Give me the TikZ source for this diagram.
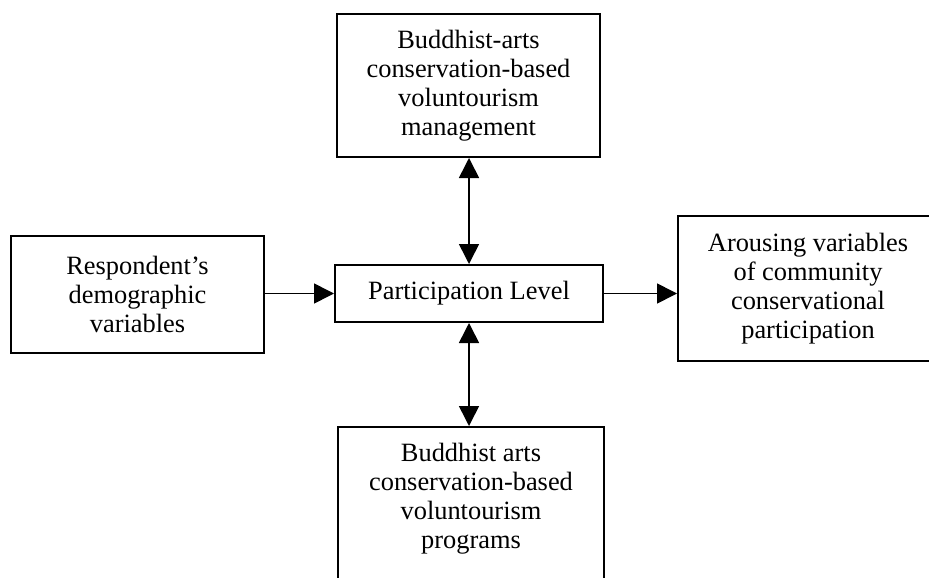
\documentclass[tikz,border=0pt]{standalone}
\usepackage{fontspec}
\setmainfont{Liberation Serif}
\usetikzlibrary{arrows.meta}
\begin{document}
\begin{tikzpicture}[x=0.5pt,y=-0.5pt,
  box/.style={draw, line width=1pt, inner sep=0pt, align=center, font=\fontsize{13.2}{14.5}\selectfont},
  txt/.style={inner sep=0pt, align=center, font=\fontsize{13.2}{14.5}\selectfont},
  tip/.style={Triangle[length=10pt,width=10pt]},
  conn/.style={line width=0.8pt, -{Triangle[length=10pt,width=10pt]}},
  biconn/.style={line width=0.8pt, {Triangle[length=10pt,width=10pt]}-{Triangle[length=10pt,width=10pt]}}]
\useasboundingbox (0,0) rectangle (929,577);
\clip (0,0) rectangle (929,577);
\node[box, minimum width=131.5pt, minimum height=71.5pt] (top) at (468.5,85.5) {Buddhist-arts\\conservation-based\\voluntourism\\management};
\node[box, minimum width=126.5pt, minimum height=58.5pt] (left) at (137.5,294.5) {Respondent's\\demographic\\variables};
\node[box, minimum width=134pt, minimum height=28.5pt] (center) at (469,293.5) {Participation Level};
\node[box, minimum width=130pt, minimum height=72.5pt] (right) at (808,288.5) {Arousing variables\\of community\\conservational\\participation};
\node[box, minimum width=133pt, minimum height=80pt] (bottom) at (471,507) {};
\node[txt] (bottomtxt) at (471,499) {Buddhist arts\\conservation-based\\voluntourism\\programs};
\draw[conn] (left.east |- center.west) -- (center.west);
\draw[conn] (center.east) -- (right.west |- center.east);
\draw[biconn] (top.south -| center.north) -- (center.north);
\draw[biconn] (center.south) -- (bottom.north -| center.south);
\end{tikzpicture}
\end{document}
